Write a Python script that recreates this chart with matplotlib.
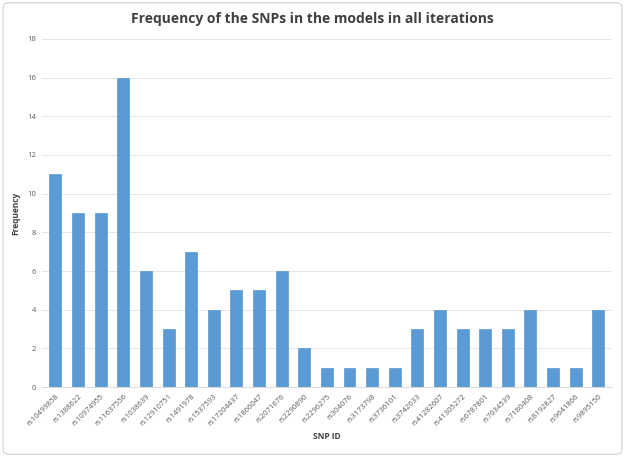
import matplotlib
matplotlib.use('Agg')
import matplotlib.pyplot as plt
from matplotlib.patches import FancyBboxPatch

snps = ['rs10499858', 'rs1388622', 'rs10974955', 'rs11637556', 'rs1038639',
        'rs12910751', 'rs1491978', 'rs1537593', 'rs17204437', 'rs1866047',
        'rs2071676', 'rs2290890', 'rs2296275', 'rs304076', 'rs3173798',
        'rs3736101', 'rs3742633', 'rs41282607', 'rs41305272', 'rs6787801',
        'rs7034539', 'rs7180408', 'rs8192827', 'rs9641866', 'rs9895150']
freq = [11, 9, 9, 16, 6, 3, 7, 4, 5, 5, 6, 2, 1, 1, 1, 1, 3, 4, 3, 3, 3, 4, 1, 1, 4]
yticks = list(range(0, 19, 2))

plt.rcParams['font.family'] = ['Open Sans', 'DejaVu Sans']

fig = plt.figure(figsize=(6.25, 4.57), dpi=100)
ax = fig.add_axes([0.067, 0.153, 0.912, 0.762])

x = list(range(len(snps)))
ax.bar(x, freq, width=0.53, color='#5b9bd5', edgecolor='#4a8ac6', linewidth=0.4, zorder=3)

ax.set_xlim(-0.6, len(snps) - 0.4)
ax.set_ylim(0, 18)
ax.set_yticks(yticks)
ax.set_yticklabels([str(t) for t in yticks], fontsize=5.5, color='#595959')
ax.set_xticks(x)
ax.set_xticklabels(snps, rotation=45, ha='right', rotation_mode='anchor',
                   fontsize=5.5, color='#595959')
ax.tick_params(length=0, pad=4)
ax.tick_params(axis='x', pad=4)
ax.grid(axis='y', color='#e6e6e6', linewidth=0.7, zorder=0)
for s in ['top', 'right', 'left']:
    ax.spines[s].set_visible(False)
ax.spines['bottom'].set_color('#d9d9d9')
ax.spines['bottom'].set_linewidth(0.7)

ax.set_xlabel('SNP ID', fontsize=6, fontweight='bold', color='#404040', labelpad=3)
ax.set_ylabel('Frequency', fontsize=6, fontweight='bold', color='#404040', labelpad=5)
fig.text(0.5, 0.958, 'Frequency of the SNPs in the models in all iterations',
         ha='center', va='center', fontsize=10, fontweight='bold', color='#404040')

border = FancyBboxPatch((0.005, 0.006), 0.99, 0.988, boxstyle='round,pad=0,rounding_size=0.01',
                        transform=fig.transFigure, fill=False, edgecolor='#d0d0d0', linewidth=0.8)
fig.patches.append(border)

fig.savefig('out.png', dpi=100)
